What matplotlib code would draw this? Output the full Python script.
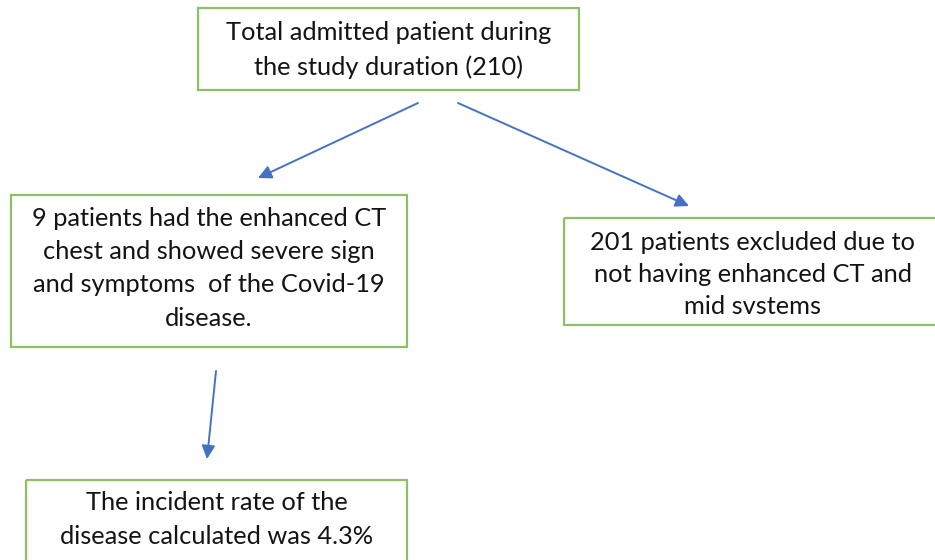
import matplotlib.pyplot as plt
from matplotlib.patches import Rectangle

# Box texts (one entry per line)
box_texts = [
    ["Total admitted patient during", "the study duration (210)"],
    ["9 patients had the enhanced CT", "chest and showed severe sign",
     "and symptoms  of the Covid-19", "disease."],
    ["201 patients excluded due to", "not having enhanced CT and",
     "mid svstems"],
    ["The incident rate of the", "disease calculated was 4.3%"],
]

# Box geometry in pixel coords: (left, top, right, bottom)
box_rects = [
    (198, 8, 579, 90),
    (11, 195, 407, 347),
    (564, 218, 942, 325),
    (26, 480, 407, 575),
]
# first text line y and line spacing per box
line_start = [32, 218, 243, 503]
line_step = [35, 33.5, 31.5, 34]

# Arrows: (start, end)
arrows = [
    ((418, 103), (258, 178)),
    ((458, 103), (689, 206)),
    ((216, 371), (207, 459)),
]

GREEN = "#8DC063"
BLUE = "#4472C4"

fig = plt.figure(figsize=(9.35, 5.6), dpi=100)
ax = fig.add_axes([0, 0, 1, 1])
ax.set_xlim(0, 935)
ax.set_ylim(560, 0)
ax.axis("off")

for (l, t, r, b), lines, y0, dy in zip(box_rects, box_texts, line_start, line_step):
    ax.add_patch(Rectangle((l, t), r - l, b - t, fill=False,
                           edgecolor=GREEN, linewidth=1.6, clip_on=False))
    cx = (l + r) / 2
    for i, s in enumerate(lines):
        ax.text(cx, y0 + i * dy, s, ha="center", va="center",
                fontsize=18.3, family="Lato", color="#141414")

for (x0, y0), (x1, y1) in arrows:
    ax.annotate("", xy=(x1, y1), xytext=(x0, y0),
                arrowprops=dict(arrowstyle="-|>", color=BLUE, lw=1.4,
                                mutation_scale=20, shrinkA=0, shrinkB=0))

fig.savefig("out.png", dpi=100)
